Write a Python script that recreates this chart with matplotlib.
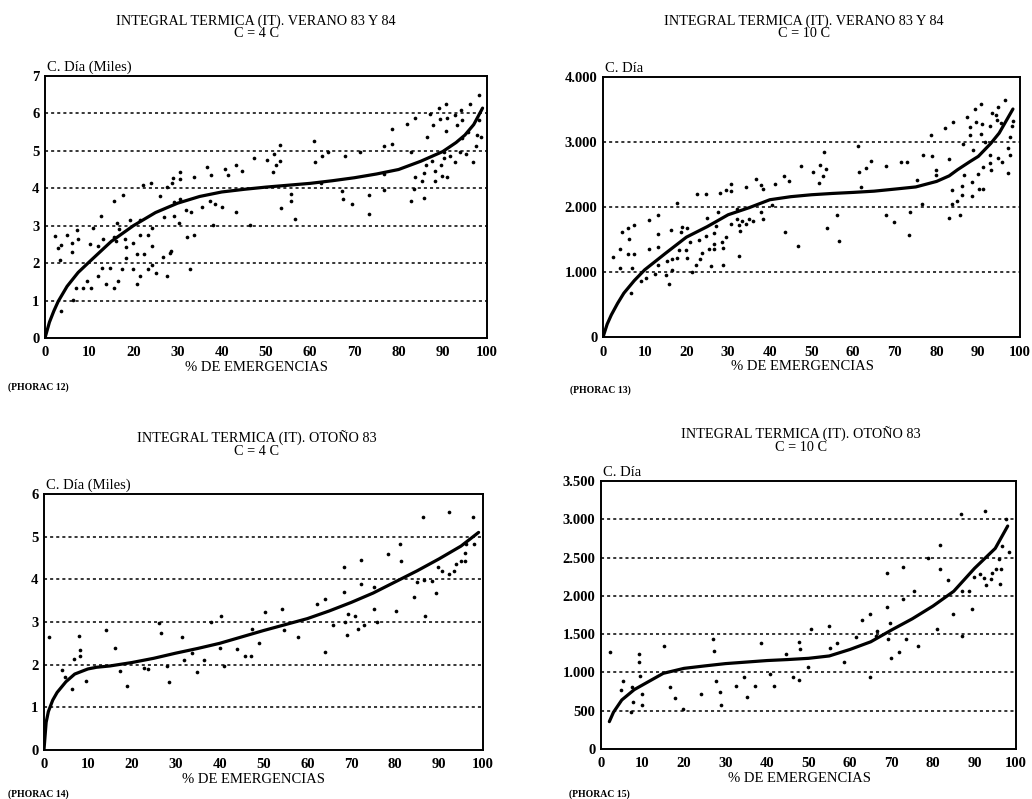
#!/usr/bin/env python3
"""integral termica (IT) vs % de emergencias, four panels (PHORAC 12-15)"""
import matplotlib
matplotlib.use('Agg')
import matplotlib.pyplot as plt
import numpy as np

plt.rcParams['font.family'] = ['Liberation Serif', 'DejaVu Serif']

# ---- PHORAC 12: verano 83 y 84, C = 4 C (miles) ----
p12_x = [2.3, 3.0, 3.6, 3.4, 3.6, 4.9, 6.0, 6.2, 6.3, 7.2, 7.4, 7.0, 8.7, 9.4, 10.2, 10.3, 10.9,
         12.1, 12.1, 12.7, 13.0, 13.2, 13.8, 14.7, 15.5, 15.6, 15.6, 16.1, 16.4, 16.5, 16.8, 17.4,
         17.6, 18.1, 18.3, 18.3, 19.2, 19.8, 19.8, 20.8, 20.8, 21.4, 21.5, 21.5, 22.1, 22.4, 23.2,
         23.4, 24.0, 24.2, 24.2, 24.3, 25.1, 26.0, 26.6, 27.0, 27.5, 27.5, 28.3, 28.5, 28.7, 28.9,
         29.1, 29.2, 30.4, 30.6, 30.6, 30.6, 31.8, 32.1, 32.7, 33.1, 33.8, 33.8, 35.5, 36.7, 37.4,
         37.6, 37.9, 38.5, 40.0, 40.8, 41.4, 43.2, 43.2, 44.5, 46.4, 47.2, 50.2, 51.5, 51.7, 52.3,
         53.1, 53.1, 53.4, 55.7, 55.7, 56.5, 60.8, 61.1, 62.4, 62.6, 64.0, 67.2, 67.5, 67.9, 69.4,
         71.3, 73.2, 73.4, 76.6, 76.6, 76.8, 78.5, 78.6, 81.9, 82.8, 82.9, 83.4, 83.6, 83.8, 85.7,
         85.3, 85.7, 86.3, 86.4, 87.2, 87.7, 87.5, 88.2, 88.3, 89.1, 89.4, 89.7, 89.8, 90.2, 90.3,
         90.8, 90.8, 90.9, 90.9, 91.7, 92.8, 92.8, 93.1, 94.2, 94.3, 94.3, 94.0, 95.2, 95.8, 96.2,
         96.8, 97.4, 97.7, 98.1, 98.3, 98.6]
p12_y = [2.73, 2.40, 2.49, 2.07, 0.71, 2.76, 2.54, 2.30, 1.02, 2.89, 2.64, 1.33, 1.33, 1.53, 2.51,
         1.33, 2.94, 2.47, 1.65, 3.27, 1.86, 2.64, 1.44, 1.86, 3.67, 2.70, 1.33, 2.58, 3.07, 1.53,
         2.91, 1.85, 3.83, 2.64, 2.43, 2.14, 3.14, 2.54, 1.84, 1.44, 2.24, 3.14, 2.76, 1.65, 4.09,
         2.24, 2.76, 1.84, 4.15, 2.94, 2.45, 1.95, 1.73, 3.78, 2.15, 3.23, 1.65, 4.02, 2.27, 2.33,
         4.15, 4.27, 3.63, 3.27, 3.07, 3.71, 4.25, 4.42, 3.41, 2.69, 1.84, 3.37, 2.76, 4.29, 3.49,
         4.56, 3.67, 4.34, 3.02, 3.58, 3.49, 4.51, 4.34, 3.36, 4.61, 4.47, 3.02, 4.80, 4.76, 4.42,
         4.92, 4.61, 4.72, 5.16, 3.47, 3.84, 3.67, 3.19, 5.27, 4.70, 4.15, 4.85, 4.96, 3.93, 3.71,
         4.85, 3.59, 4.96, 3.31, 3.83, 3.94, 4.39, 5.13, 5.18, 5.58, 5.72, 4.98, 3.65, 3.98, 4.29,
         5.87, 3.75, 4.18, 4.40, 4.63, 5.36, 5.98, 5.69, 4.72, 4.47, 4.18, 6.14, 5.84, 4.63, 4.33,
         4.82, 4.98, 6.25, 5.52, 5.87, 4.29, 4.87, 5.96, 4.70, 5.69, 6.08, 5.83, 5.34, 4.98, 4.91,
         5.49, 6.25, 4.70, 5.12, 5.43, 6.49, 5.81, 5.37]
p12_fit_x = [0, 1, 2, 3, 5, 7.5, 10, 15, 20, 25, 30, 35, 40, 45, 50, 55, 60, 65, 70, 75, 80, 85,
             90, 93, 95, 97, 99]
p12_fit_y = [0, 0.42, 0.72, 0.98, 1.38, 1.75, 2.03, 2.58, 3.0, 3.35, 3.6, 3.78, 3.9, 3.97, 4.03,
             4.08, 4.13, 4.2, 4.28, 4.38, 4.5, 4.72, 4.98, 5.22, 5.42, 5.7, 6.14]

# ---- PHORAC 13: verano 83 y 84, C = 10 C ----
p13_x = [2.4, 4.0, 4.0, 4.6, 5.9, 5.9, 6.3, 6.7, 6.9, 7.4, 7.5, 9.1, 10.3, 11.1, 11.1, 12.5, 13.1,
         13.1, 13.1, 13.3, 15.1, 15.4, 15.8, 16.4, 16.6, 16.6, 17.8, 17.8, 18.2, 18.6, 18.9, 19.8,
         20.2, 20.2, 20.8, 21.4, 22.2, 22.6, 23.0, 23.2, 23.8, 24.6, 24.6, 25.0, 25.5, 25.8, 26.5,
         26.5, 26.5, 27.1, 27.5, 28.1, 28.5, 28.7, 28.7, 29.5, 29.5, 30.7, 30.7, 30.7, 32.1, 32.2,
         32.5, 32.7, 32.9, 33.3, 34.3, 34.4, 35.0, 35.9, 36.8, 37.8, 38.0, 38.3, 38.3, 40.6, 41.2,
         43.3, 43.6, 44.6, 46.8, 47.4, 50.3, 51.9, 52.1, 52.7, 53.1, 53.5, 53.6, 56.1, 56.5, 61.2,
         61.4, 61.9, 63.0, 64.2, 67.9, 67.9, 69.7, 71.5, 72.9, 73.3, 73.7, 75.3, 76.5, 76.7, 78.7,
         78.8, 79.8, 79.8, 81.9, 83.0, 83.0, 83.6, 83.8, 84.0, 84.8, 85.7, 86.0, 86.1, 86.4, 86.6,
         87.3, 88.0, 88.0, 88.5, 88.5, 88.7, 89.3, 89.5, 89.9, 90.2, 90.6, 90.7, 91.0, 91.1, 91.1,
         91.7, 92.8, 92.9, 92.9, 93.1, 93.3, 94.3, 94.5, 94.7, 94.7, 95.5, 95.7, 96.4, 97.1, 97.2,
         97.5, 97.7, 98.1, 98.3]
p13_y = [1231, 1354, 1062, 1615, 1677, 1277, 1513, 677, 1062, 1277, 1718, 867, 903, 1359, 1795,
         974, 1882, 1585, 1103, 1380, 959, 1164, 815, 1651, 1036, 1205, 2062, 1215, 1333, 1610,
         1687, 1333, 1215, 1677, 1462, 995, 1113, 2200, 1487, 1205, 1292, 2205, 1549, 1831, 1354,
         1097, 1354, 1600, 1431, 1703, 1928, 2215, 1462, 1103, 1369, 1538, 2256, 2241, 2359, 1738,
         1974, 1820, 1718, 1251, 1626, 1779, 2303, 1738, 1820, 1790, 2431, 2344, 1923, 2277, 1820,
         2026, 2359, 2482, 1610, 2395, 1395, 2636, 2533, 2369, 2646, 2472, 2841, 2590, 1677, 1882,
         1482, 2944, 2538, 2308, 2600, 2713, 2626, 1882, 1764, 2687, 2687, 1564, 1923, 2410, 2051,
         2805, 3113, 2790, 2574, 2487, 3215, 1831, 2738, 2256, 2051, 3302, 2087, 1882, 2190, 2318,
         2969, 2497, 3385, 3225, 3113, 2164, 2379, 2882, 3508, 3308, 2508, 2277, 3123, 3590, 3282,
         2277, 2610, 2995, 2677, 2805, 3251, 2564, 3446, 3420, 3343, 3533, 2754, 3292, 2687, 3641,
         2523, 2908, 2805, 3077, 3251, 3318]
p13_fit_x = [0, 1, 2, 3.5, 5, 7.5, 10, 15, 20, 25, 30, 35, 40, 45, 50, 55, 60, 65, 70, 75, 80, 83,
             85, 88, 90, 93, 95, 98.3]
p13_fit_y = [0, 200, 343, 520, 677, 870, 1036, 1290, 1538, 1700, 1882, 1990, 2113, 2160, 2190, 2210,
             2226, 2245, 2277, 2310, 2395, 2480, 2574, 2700, 2780, 2980, 3138, 3508]

# ---- PHORAC 14: otoño 83, C = 4 C (miles) ----
p14_x = [1.1, 4.0, 4.7, 6.5, 6.8, 8.0, 8.1, 8.1, 9.6, 14.2, 16.2, 17.4, 19.0, 22.9, 23.8, 26.3,
         26.7, 28.0, 28.4, 31.5, 32.0, 33.7, 34.9, 36.4, 38.1, 40.4, 40.2, 41.0, 44.0, 45.9, 47.1,
         47.4, 48.9, 50.3, 54.3, 54.7, 57.9, 62.3, 64.1, 64.1, 65.8, 68.3, 68.3, 68.5, 69.1, 69.3,
         70.8, 71.5, 72.3, 72.3, 73.0, 75.2, 75.2, 75.9, 78.4, 80.3, 81.2, 81.4, 84.4, 85.0, 86.3,
         86.6, 86.9, 88.5, 89.2, 89.7, 90.7, 92.2, 92.3, 93.5, 93.8, 94.9, 95.8, 95.8, 96.2, 97.7,
         97.9]
p14_y = [2.64, 1.88, 1.72, 1.43, 2.14, 2.68, 2.35, 2.21, 1.62, 2.82, 2.40, 1.86, 1.51, 1.93, 1.89,
         2.97, 2.74, 1.98, 1.60, 2.64, 2.11, 2.27, 1.82, 2.11, 2.99, 3.13, 2.40, 1.98, 2.36, 2.21,
         2.21, 2.83, 2.52, 3.23, 3.31, 2.82, 2.64, 3.43, 3.54, 2.29, 2.93, 4.29, 3.70, 3.00, 2.70,
         3.19, 3.13, 2.83, 4.46, 3.89, 2.93, 3.81, 3.30, 2.99, 4.60, 3.25, 4.84, 4.44, 3.58, 3.93,
         5.46, 3.99, 3.13, 3.97, 3.68, 4.28, 4.19, 4.12, 5.58, 4.20, 4.36, 4.42, 4.42, 4.62, 4.84,
         5.45, 4.84]
p14_fit_x = [0, 0.5, 1, 2, 3, 5, 7, 10, 12, 15, 20, 25, 30, 35, 40, 45, 50, 55, 60, 65, 70, 75,
             80, 85, 90, 95, 99]
p14_fit_y = [0, 0.65, 0.9, 1.17, 1.35, 1.6, 1.78, 1.9, 1.94, 1.97, 2.05, 2.15, 2.27, 2.38, 2.5,
             2.65, 2.8, 2.94, 3.08, 3.26, 3.46, 3.68, 3.94, 4.2, 4.48, 4.78, 5.1]

# ---- PHORAC 15: otoño 83, C = 10 C ----
p15_x = [2.2, 4.9, 5.3, 7.2, 7.4, 7.6, 9.1, 9.2, 9.3, 9.9, 9.9, 15.2, 16.7, 17.9, 19.7, 24.1,
         26.9, 27.3, 27.7, 28.6, 29.0, 32.6, 34.4, 35.1, 37.1, 38.6, 40.8, 41.6, 44.6, 46.3, 47.6,
         47.8, 48.0, 49.8, 50.6, 55.0, 55.2, 56.8, 58.6, 61.4, 62.9, 64.9, 64.9, 66.3, 66.5, 68.9,
         68.9, 69.1, 69.7, 69.8, 71.7, 72.7, 72.7, 73.4, 75.5, 76.3, 78.9, 80.9, 81.7, 81.7, 83.7,
         84.8, 86.7, 87.1, 87.1, 88.7, 89.5, 89.9, 91.3, 92.3, 92.5, 92.7, 94.0, 94.3, 95.1, 96.0,
         96.1, 96.3, 96.6, 97.6, 98.2]
p15_y = [1262, 766, 888, 488, 814, 618, 1241, 1141, 953, 718, 575, 1349, 814, 662, 522, 714, 1432,
         1284, 888, 749, 575, 827, 936, 683, 827, 1389, 975, 823, 1241, 936, 1393, 901, 1302, 1066,
         1567, 1611, 1315, 1380, 1132, 1467, 1685, 1759, 945, 1480, 1545, 2303, 1859, 1432, 1650,
         1193, 1262, 1955, 2381, 1432, 2063, 1345, 2490, 1567, 2664, 2351, 2207, 1763, 3064, 1480,
         2068, 2063, 1828, 2242, 2285, 2237, 3112, 2142, 2216, 2303, 2351, 2477, 2155, 2351, 2655,
         3004, 2568]
p15_fit_x = [2, 3, 5, 8, 10, 15, 20, 25, 30, 35, 40, 45, 50, 55, 60, 65, 70, 75, 80, 85, 90, 95, 98]
p15_fit_y = [357, 480, 640, 775, 836, 988, 1053, 1085, 1115, 1135, 1155, 1168, 1184, 1215, 1300,
             1400, 1554, 1700, 1867, 2060, 2359, 2620, 2912]

x_ticks = [0, 10, 20, 30, 40, 50, 60, 70, 80, 90, 100]

panels = [
	dict(rect=[0.0436, 0.577, 0.4283, 0.328],
	     title='INTEGRAL TERMICA (IT). VERANO 83 Y 84\nC = 4 C', tpos=(256, 27),
	     ylab='C. Día (Miles)', yticks=[0, 1, 2, 3, 4, 5, 6, 7],
	     ylabels=['0', '1', '2', '3', '4', '5', '6', '7'], grid=[1, 2, 3, 4, 5, 6],
	     pts=(p12_x, p12_y), fit=(p12_fit_x, p12_fit_y), note='(PHORAC 12)', npos=(8, 387)),
	dict(rect=[0.5843, 0.578, 0.4041, 0.3256],
	     title='INTEGRAL TERMICA (IT). VERANO 83 Y 84\nC = 10 C', tpos=(804, 27),
	     ylab='C. Día', yticks=[0, 1000, 2000, 3000, 4000],
	     ylabels=['0', '1.000', '2.000', '3.000', '4.000'], grid=[1000, 2000, 3000],
	     pts=(p13_x, p13_y), fit=(p13_fit_x, p13_fit_y), note='(PHORAC 13)', npos=(570, 390)),
	dict(rect=[0.0426, 0.0613, 0.4254, 0.3204],
	     title='INTEGRAL TERMICA (IT). OTOÑO 83\nC = 4 C', tpos=(257, 444),
	     ylab='C. Día (Miles)', yticks=[0, 1, 2, 3, 4, 5, 6],
	     ylabels=['0', '1', '2', '3', '4', '5', '6'], grid=[1, 2, 3, 4, 5],
	     pts=(p14_x, p14_y), fit=(p14_fit_x, p14_fit_y), note='(PHORAC 14)', npos=(8, 794)),
	dict(rect=[0.5824, 0.0626, 0.4021, 0.3354],
	     title='INTEGRAL TERMICA (IT). OTOÑO 83\nC = 10 C', tpos=(801, 440),
	     ylab='C. Día', yticks=[0, 500, 1000, 1500, 2000, 2500, 3000, 3500],
	     ylabels=['0', '500', '1.000', '1.500', '2.000', '2.500', '3.000', '3.500'],
	     grid=[500, 1000, 1500, 2000, 2500, 3000],
	     pts=(p15_x, p15_y), fit=(p15_fit_x, p15_fit_y), note='(PHORAC 15)', npos=(569, 794)),
]

W, H = 1032, 799
fig = plt.figure(figsize=(W / 100, H / 100), dpi=100)

for p in panels:
	ax = fig.add_axes(p['rect'])
	ax.set_xlim(0, 100)
	ax.set_ylim(0, p['yticks'][-1])
	for g in p['grid']:
		ax.axhline(g, color='black', linestyle=(0, (2, 2)), linewidth=1.1, zorder=1)
	ax.scatter(p['pts'][0], p['pts'][1], s=7, color='black', linewidths=0, zorder=3)
	ax.plot(p['fit'][0], p['fit'][1], color='black', linewidth=2.3, solid_capstyle='round', zorder=4)

	ax.set_xticks(x_ticks)
	ax.set_xticklabels([str(v) for v in x_ticks])
	ax.set_yticks(p['yticks'])
	ax.set_yticklabels(p['ylabels'])
	ax.tick_params(length=0, labelsize=10.5)
	ax.tick_params(axis='x', pad=6)
	ax.tick_params(axis='y', pad=4)
	for lbl in ax.get_xticklabels() + ax.get_yticklabels():
		lbl.set_fontweight('bold')
	for s in ax.spines.values():
		s.set_linewidth(1.4)
	ax.set_xlabel('% DE EMERGENCIAS', fontsize=10.5, labelpad=1)
	ax.xaxis.label.set_x(0.478)
	ax.text(0.005, 1.008, p['ylab'], transform=ax.transAxes, ha='left', va='bottom', fontsize=10.5)

	fig.text(p['tpos'][0] / W, 1 - p['tpos'][1] / H, p['title'], ha='center', va='center',
	         fontsize=10.3, linespacing=0.9)
	fig.text(p['npos'][0] / W, 1 - p['npos'][1] / H, p['note'], ha='left', va='center',
	         fontsize=7, fontweight='bold')

fig.savefig('out.png', dpi=100)
